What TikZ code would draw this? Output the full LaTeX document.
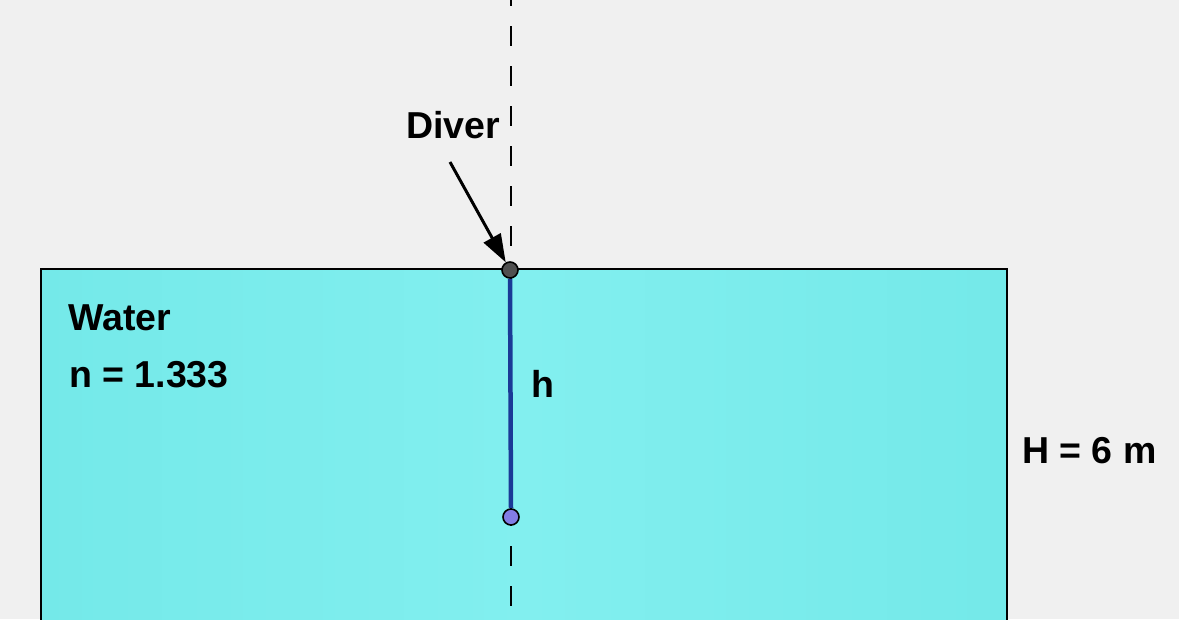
\documentclass[tikz,border=0pt]{standalone}
\usepackage{fontspec}
\setmainfont{Liberation Sans}
\usetikzlibrary{arrows.meta}
\definecolor{bg}{RGB}{240,240,240}
\definecolor{water}{RGB}{130,239,239}
\definecolor{waterdark}{RGB}{116,233,233}
\definecolor{rod}{RGB}{26,58,150}
\definecolor{topdot}{RGB}{80,80,80}
\definecolor{botdot}{RGB}{130,125,230}
\tikzset{
  lbl/.style={font=\fontsize{37.5}{42}\selectfont\bfseries, anchor=base west, inner sep=0pt},
  dot/.style={circle, draw=black, line width=1.6pt, minimum size=16pt, inner sep=0pt},
  axis/.style={black, line width=2pt, dash pattern=on 20pt off 20pt, dash phase=8pt},
}
\begin{document}
\begin{tikzpicture}[x=1pt,y=-1pt]
\fill[bg] (0,0) rectangle (1179,619);
\useasboundingbox (0,0) rectangle (1179,619);
% water
\shade[left color=waterdark, right color=waterdark, middle color=water] (41,269) rectangle (1007,625);
\draw[black, line width=2pt] (41,625) -- (41,269) -- (1007,269) -- (1007,625);
% axis
\coordinate (axtop) at (511,-6);
\coordinate (axbot) at (511,619);
\draw[axis] (axtop) -- (axbot);
% points
\node[dot, fill=topdot] (diver) at (510,270) {};
\node[dot, fill=botdot] (bottom) at (511,517) {};
\draw[rod, line width=4.5pt] (diver.south) -- (bottom.north);
% labels
\node[lbl] (diverlbl) at (406,138) {Diver};
\coordinate (arrstart) at (450,162);
\draw[line width=3pt, -{Triangle[length=28pt,width=19pt]}] (arrstart) -- (diver);
\node[lbl] (waterlbl) at (68,330) {Water};
\node[lbl] (nlbl) at (69,387) {n = 1.333};
\node[lbl] (hlbl) at (531,397) {h};
\node[lbl] (Hlbl) at (1022,463) {H = 6 m};
\end{tikzpicture}
\end{document}
